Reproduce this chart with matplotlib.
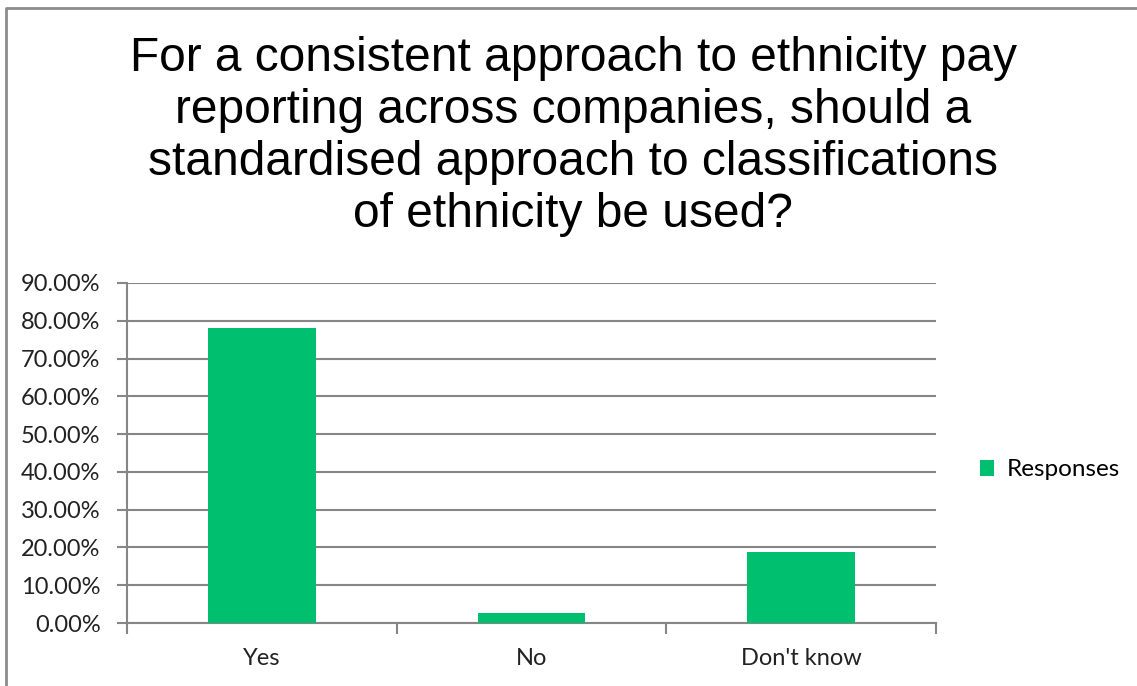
import matplotlib
matplotlib.use("Agg")
import matplotlib.pyplot as plt
from matplotlib.lines import Line2D
from matplotlib.patches import Patch
from matplotlib.ticker import FuncFormatter, MultipleLocator

categories = ["Yes", "No", "Don't know"]
responses = [0.782, 0.027, 0.188]
series_name = "Responses"
title = ("For a consistent approach to ethnicity pay\n"
         "reporting across companies, should a\n"
         "standardised approach to classifications\n"
         "of ethnicity be used?")

GREEN = "#00BF6F"
GRID = "#868686"
TICK_FONT = ["Lato", "DejaVu Sans"]

fig = plt.figure(figsize=(11.37, 6.86), dpi=100)
ax = fig.add_axes([127 / 1137, 1 - 623 / 686, (936 - 127) / 1137, (623 - 283) / 686])

x = range(len(categories))
ax.bar(x, responses, width=0.4, color=GREEN, zorder=3)

ax.set_xlim(-0.5, len(categories) - 0.5)
ax.set_ylim(0, 0.9)
ax.yaxis.set_major_locator(MultipleLocator(0.1))
ax.yaxis.set_major_formatter(FuncFormatter(lambda v, p: f"{v * 100:.2f}%"))
ax.grid(axis="y", color=GRID, linewidth=1.5, zorder=0)

ax.set_xticks([i - 0.5 for i in range(len(categories) + 1)], minor=False)
ax.set_xticklabels([])
ax.set_xticks(list(x), minor=True)
ax.set_xticklabels(categories, minor=True, fontsize=17, family=TICK_FONT, color="#222222")
ax.tick_params(axis="x", which="major", length=8, width=1.5, color=GRID, direction="out")
ax.tick_params(axis="x", which="minor", length=0, pad=18)
ax.tick_params(axis="y", length=7, width=1.5, color=GRID, pad=12)
for lab in ax.get_yticklabels():
    lab.set_fontsize(17)
    lab.set_family(TICK_FONT)
    lab.set_color("#222222")

for side in ["top", "right"]:
    ax.spines[side].set_visible(False)
ax.spines["left"].set_color(GRID)
ax.spines["left"].set_linewidth(1.5)
ax.spines["bottom"].set_color(GRID)
ax.spines["bottom"].set_linewidth(1.5)

fig.text(573 / 1137, 1 - 36 / 686, title, ha="center", va="top", fontsize=34.5,
         family=["Liberation Sans", "DejaVu Sans"], linespacing=1.2)

handle = Patch(facecolor=GREEN, edgecolor="none")
fig.legend([handle], [series_name], loc="center left", bbox_to_anchor=(958 / 1137, 1 - 470 / 686),
           frameon=False, prop={"family": TICK_FONT, "size": 17.5},
           handlelength=0.6, handleheight=0.6, handletextpad=0.5)

# chart frame (top and left edges visible)
fig.add_artist(Line2D([6 / 1137, 6 / 1137, 1], [0, 1 - 8 / 686, 1 - 8 / 686],
                      transform=fig.transFigure, color="#8c8c8c", linewidth=2))

fig.savefig("out.png", dpi=100)
